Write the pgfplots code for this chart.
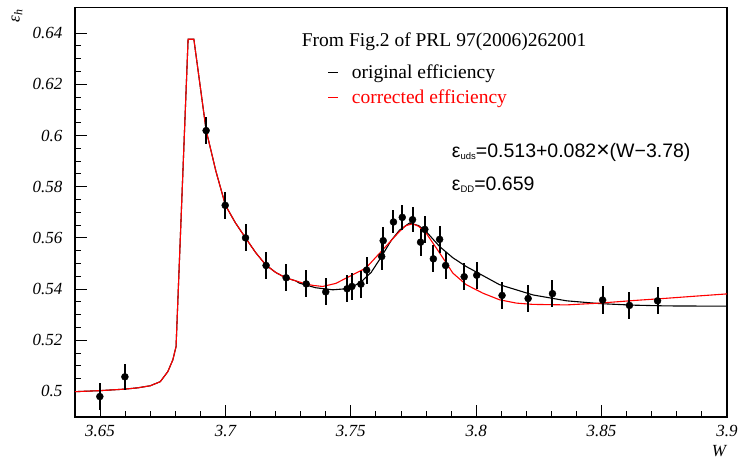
\documentclass[border=0pt]{standalone}
\usepackage{pgfplots}
\pgfplotsset{compat=1.18}
\usepackage{pgfplotstable}
\usepackage{fontspec}
\setmainfont{Liberation Serif}
\newfontfamily\helv{Liberation Sans}

\pgfplotstableread{
x y
3.6400 0.4999
3.6500 0.5003
3.6600 0.5009
3.6650 0.5014
3.6700 0.5022
3.6740 0.5038
3.6770 0.5077
3.6790 0.5123
3.6803 0.5175
3.6851 0.6376
3.6874 0.6376
3.6923 0.6020
3.6962 0.5860
3.7000 0.5727
3.7040 0.5658
3.7080 0.5600
3.7120 0.5543
3.7160 0.5495
3.7200 0.5465
3.7240 0.5444
3.7280 0.5432
3.7320 0.5420
3.7350 0.5414
3.7388 0.5410
3.7440 0.5422
3.7494 0.5449
3.7560 0.5482
3.7627 0.5553
3.7694 0.5625
3.7720 0.5648
3.7747 0.5655
3.7770 0.5645
3.7800 0.5619
3.7854 0.5541
3.7907 0.5462
3.7960 0.5417
3.8026 0.5384
3.8093 0.5358
3.8160 0.5345
3.8226 0.5340
3.8360 0.5338
3.8493 0.5345
3.8626 0.5355
3.8760 0.5364
3.8900 0.5374
3.9000 0.5381
}\redcurve

\pgfplotstableread{
x y
3.6400 0.4999
3.6500 0.5003
3.6600 0.5009
3.6650 0.5014
3.6700 0.5022
3.6740 0.5038
3.6770 0.5077
3.6790 0.5123
3.6803 0.5175
3.6851 0.6376
3.6874 0.6376
3.6923 0.6020
3.6962 0.5860
3.7000 0.5727
3.7040 0.5658
3.7080 0.5600
3.7120 0.5543
3.7160 0.5495
3.7200 0.5465
3.7240 0.5444
3.7280 0.5432
3.7295 0.5423
3.7360 0.5405
3.7428 0.5397
3.7494 0.5402
3.7541 0.5428
3.7581 0.5465
3.7621 0.5525
3.7661 0.5590
3.7694 0.5630
3.7734 0.5658
3.7770 0.5648
3.7800 0.5625
3.7854 0.5566
3.7907 0.5522
3.7960 0.5488
3.8093 0.5417
3.8226 0.5377
3.8360 0.5354
3.8493 0.5343
3.8626 0.5337
3.8760 0.5334
3.9000 0.5333
}\blackcurve

\pgfplotstableread{
x y e
3.6499 0.4980 0.0052
3.6599 0.5057 0.0052
3.6923 0.6019 0.0053
3.6999 0.5727 0.0053
3.7080 0.5600 0.0053
3.7162 0.5492 0.0053
3.7242 0.5444 0.0053
3.7322 0.5420 0.0053
3.7400 0.5389 0.0053
3.7485 0.5401 0.0053
3.7504 0.5410 0.0053
3.7540 0.5419 0.0053
3.7563 0.5474 0.0053
3.7623 0.5527 0.0053
3.7629 0.5589 0.0053
3.7670 0.5662 0.0045
3.7705 0.5680 0.0050
3.7746 0.5671 0.0050
3.7778 0.5583 0.0053
3.7795 0.5633 0.0053
3.7829 0.5518 0.0053
3.7854 0.5594 0.0053
3.7878 0.5492 0.0053
3.7952 0.5448 0.0053
3.8002 0.5454 0.0053
3.8103 0.5375 0.0053
3.8207 0.5363 0.0053
3.8304 0.5382 0.0053
3.8504 0.5357 0.0053
3.8611 0.5336 0.0053
3.8723 0.5354 0.0053
}\points

\begin{document}
\begin{tikzpicture}
\useasboundingbox (-75pt,-44pt) rectangle (666pt,417pt);
\begin{axis}[
  at={(0pt,0pt)}, anchor=south west,
  width=652pt, height=409.5pt, scale only axis,
  xmin=3.64, xmax=3.9, ymin=0.49, ymax=0.65,
  xtick={3.65,3.7,3.75,3.8,3.85,3.9},
  ytick={0.5,0.52,0.54,0.56,0.58,0.6,0.62,0.64},
  minor x tick num=4, minor y tick num=3,
  xtick pos=bottom, ytick pos=left,
  tick align=inside,
  major tick length=12pt, minor tick length=6pt,
  every tick/.style={black, line width=1pt},
  axis line style={line width=1.3pt},
  /pgf/number format/assume math mode=true,
  /pgf/number format/fixed, /pgf/number format/precision=2,
  ticklabel style={font=\fontsize{17}{17}\selectfont\itshape},
  yticklabel style={xshift=-9pt},
  xticklabel style={yshift=-5pt},
  clip=true,
]
\addplot[black, line width=1.1pt] table[x=x,y=y] {\blackcurve};
\addplot[red, line width=1.1pt] table[x=x,y=y] {\redcurve};
\addplot[only marks, mark=*, mark size=3.5pt, black,
  error bars/.cd, y dir=both, y explicit, error mark=none,
  error bar style={line width=2pt, black}]
  table[x=x, y=y, y error=e] {\points};
\end{axis}
% axis titles
\node[rotate=90, anchor=east, inner sep=0pt] at (-58pt,408pt)
  {\fontsize{17}{17}\selectfont\itshape ε\textsubscript{h}};
\node[anchor=center, inner sep=0pt] at (644pt,-34.5pt)
  {\fontsize{17}{17}\selectfont\itshape W};
% header text
\node[anchor=base west, inner sep=0pt] at (226.7pt,370pt)
  {\fontsize{19.5}{19.5}\selectfont From Fig.2 of PRL 97(2006)262001};
\node[anchor=base west, inner sep=0pt] at (253pt,338.7pt)
  {\fontsize{19.5}{19.5}\selectfont\rule[0.27em]{10pt}{1pt}\hspace{13.7pt}original efficiency};
\node[anchor=base west, inner sep=0pt, text=red] at (253pt,313.7pt)
  {\fontsize{19.5}{19.5}\selectfont\color{red}\rule[0.27em]{10pt}{1pt}\hspace{13.7pt}corrected efficiency};
% formulas
\node[anchor=base west, inner sep=0pt] at (376.7pt,259pt)
  {\helv\fontsize{19.5}{19.5}\selectfont ε\raisebox{-2pt}{\fontsize{9.5}{9.5}\selectfont uds}=0.513+0.082{\fontsize{23}{23}\selectfont×}(W−3.78)};
\node[anchor=base west, inner sep=0pt] at (376.7pt,226pt)
  {\helv\fontsize{19.5}{19.5}\selectfont ε\raisebox{-2pt}{\fontsize{9.5}{9.5}\selectfont DD}=0.659};
\end{tikzpicture}
\end{document}
